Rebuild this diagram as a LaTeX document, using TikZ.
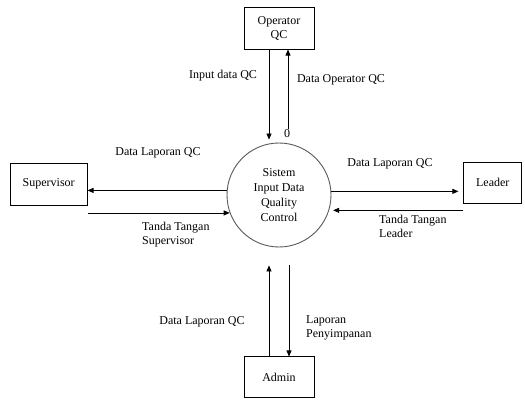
\documentclass[tikz,border=0pt]{standalone}
\usepackage{fontspec}
\setmainfont{Liberation Serif}
\usetikzlibrary{arrows.meta,positioning}

\begin{document}
\begin{tikzpicture}[
		x=1pt, y=-1pt,
		font=\fontsize{12}{14}\selectfont,
		entity/.style={draw, line width=0.7pt, minimum width=70pt, minimum height=42pt, align=center},
		process/.style={draw=black!65, line width=0.9pt, circle, minimum size=104pt, inner sep=0pt, align=center, font=\fontsize{12}{15}\selectfont},
		flow/.style={line width=0.7pt, -{Triangle[length=6pt,width=5pt]}},
		lbl/.style={align=left, inner sep=0pt},
	]
		\useasboundingbox (0,0) rectangle (525,401);
		\node (sys) [process] at (279,195) {Sistem\\Input Data\\Quality\\Control};
		\node (op) [entity, above=93pt of sys] {Operator\\QC};
		\node (sup) [entity, minimum width=77pt, left=139pt of sys, yshift=11pt] {Supervisor};
		\node (lead) [entity, minimum width=58pt, minimum height=41pt, right=132pt of sys, yshift=12.5pt] {Leader};
		\node (adm) [entity, minimum height=41pt, below=109pt of sys] {Admin};
		\node (zero) [inner sep=1pt] at (287,134) {0};
		
		\draw[flow, shorten >=3pt] ([xshift=-10pt]op.south) -- ([xshift=-10pt]op.south |- sys.north);
		\draw[flow] ([xshift=9pt]op.south |- zero.north) -- ([xshift=9pt]op.south);
		\draw[flow] (sys.175) -- (sys.175 -| sup.east);
		\draw[flow] (sys.200 -| sup.east) -- (sys.200);
		\draw[flow, shorten >=5pt] (sys.4) -- (sys.4 -| lead.west);
		\draw[flow, shorten >=4pt] (sys.-17 -| lead.west) -- (sys.-17);
		\draw[flow, shorten >=18pt] ([xshift=-10pt]adm.north) -- ([xshift=-10pt]adm.north |- sys.south);
		\draw[flow, shorten <=18pt] ([xshift=10pt]adm.north |- sys.south) -- ([xshift=10pt]adm.north);
		
		\node (opin) [lbl] at (223,76) {Input data QC};
		\node (opout) [lbl] at (341,80) {Data Operator QC};
		\node (supout) [lbl] at (158,153) {Data Laporan QC};
		\node (supin) [lbl, anchor=west] at (142,235) {Tanda Tangan\\Supervisor};
		\node (leadout) [lbl] at (390,164) {Data Laporan QC};
		\node (leadin) [lbl, anchor=west] at (379,226) {Tanda Tangan\\Leader};
		\node (admin) [lbl] at (202,322) {Data Laporan QC};
		\node (admout) [lbl, anchor=west] at (306,328) {Laporan\\Penyimpanan};
	\end{tikzpicture}
\end{document}
